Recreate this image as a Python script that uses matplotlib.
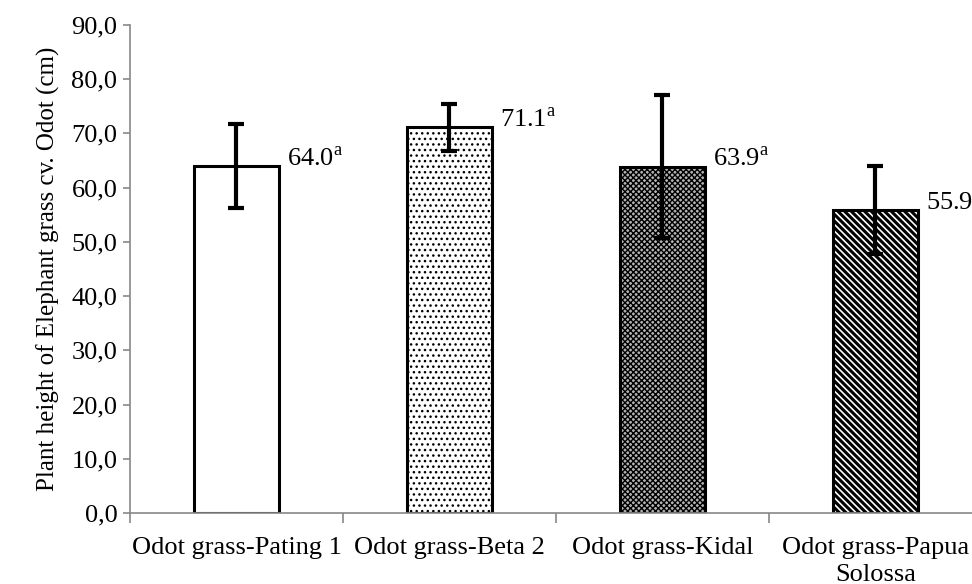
import matplotlib.pyplot as plt

plt.rcParams['font.family'] = ['Liberation Serif', 'DejaVu Serif']
plt.rcParams['mathtext.fontset'] = 'custom'
plt.rcParams['mathtext.rm'] = 'Liberation Serif'

cultivars = ['Odot grass-Pating 1', 'Odot grass-Beta 2', 'Odot grass-Kidal',
             'Odot grass-Papua\nSolossa']
heights = [64.0, 71.1, 63.9, 55.9]
sd = [7.8, 4.4, 13.2, 8.1]
letters = ['a', 'a', 'a', 'b']
hatches = ['', '...', 'xxxxxx', '\\\\\\\\\\']
fills = ['white', 'white', '#b4b4b4', 'white']
hatch_lw = [1.0, 1.0, 1.0, 2.2]

fig = plt.figure(figsize=(9.72, 5.84), dpi=100)
ax = fig.add_axes([0.1337, 0.1216, 0.8765, 0.8356])

pos = [i + 0.5 for i in range(len(heights))]
for x, h, e, ht, fc, hl in zip(pos, heights, sd, hatches, fills, hatch_lw):
    with plt.rc_context({'hatch.linewidth': hl}):
        ax.bar(x, h, width=0.4, color=fc, edgecolor='black', linewidth=2.2,
               hatch=ht, zorder=2)
    ax.errorbar(x, h, yerr=e, fmt='none', ecolor='black', elinewidth=3,
                capsize=6, capthick=3, zorder=3)

for x, h, l in zip(pos, heights, letters):
    ax.annotate(f'{h:.1f}' + r'$^{\mathrm{' + l + '}}$', (x + 0.2, h),
                xytext=(6, 0), textcoords='offset points',
                fontsize=19, va='baseline', ha='left', annotation_clip=False)

ax.set_xlim(0, 4)
ax.set_ylim(0, 90)
ax.set_yticks(range(0, 91, 10))
ax.set_yticklabels([f'{v},0' for v in range(0, 91, 10)], fontsize=19)
ax.set_xticks(pos)
ax.set_xticklabels(cultivars, fontsize=19, linespacing=1.3)
ax.set_xticks(range(0, 5), minor=True)
ax.tick_params(axis='x', which='major', length=0, pad=17)
ax.tick_params(axis='x', which='minor', length=7, color='#888888', width=1.2)
ax.tick_params(axis='y', length=5, color='#888888', width=1.2, pad=4)
ax.set_ylabel('Plant height of Elephant grass cv. Odot (cm)', fontsize=18, labelpad=8)

for s in ['top', 'right']:
    ax.spines[s].set_visible(False)
for s in ['left', 'bottom']:
    ax.spines[s].set_color('#888888')
    ax.spines[s].set_linewidth(1.2)
    ax.spines[s].set_zorder(4)

fig.savefig('out.png', dpi=100)
